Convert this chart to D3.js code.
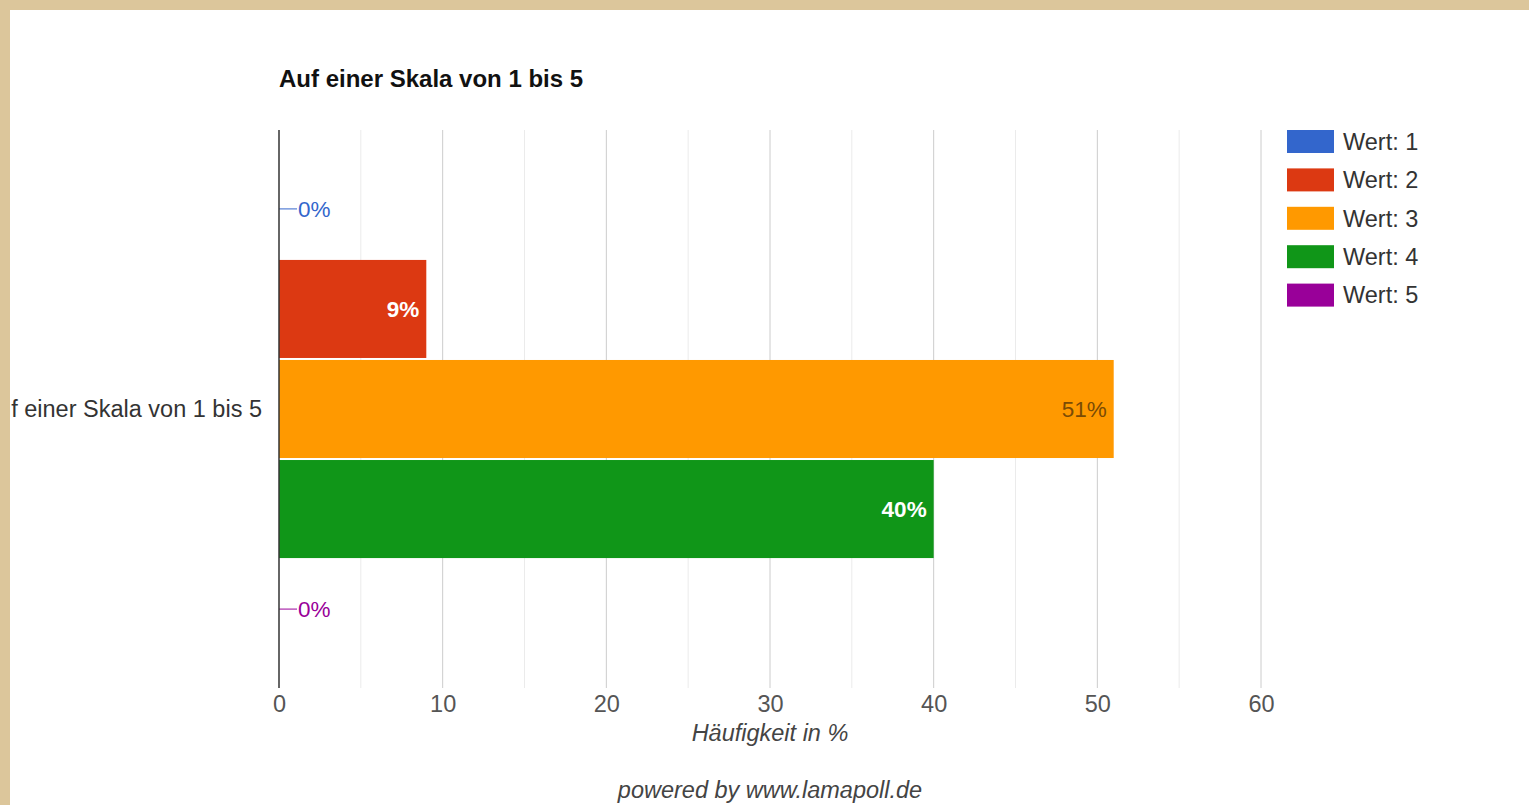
<!DOCTYPE html>
<html>
<head>
<meta charset="utf-8">
<script src="https://cdn.jsdelivr.net/npm/d3@7"></script>
<style>
  html, body { margin: 0; padding: 0; background: #ffffff; }
  svg { display: block; font-family: "Liberation Sans", Arial, sans-serif; }
</style>
</head>
<body>
<svg id="chart" width="1529" height="805"></svg>
<script>
// Survey result: share of answers per rating value
const categories = ["Auf einer Skala von 1 bis 5"];
const seriesNames = ["Wert: 1", "Wert: 2", "Wert: 3", "Wert: 4", "Wert: 5"];
const seriesValues = [0, 9, 51, 40, 0];
const seriesColors = ["#3366cc", "#dc3912", "#ff9900", "#109618", "#990099"];
const labelColors = ["#3366cc", "#ffffff", "#7a4b05", "#ffffff", "#990099"];
const labelWeights = ["normal", "bold", "normal", "bold", "normal"];
const xTicks = [0, 10, 20, 30, 40, 50, 60];
const xMinorTicks = [5, 15, 25, 35, 45, 55];
const chartTitle = "Auf einer Skala von 1 bis 5";
const xAxisTitle = "Häufigkeit in %";
const footer = "powered by www.lamapoll.de";

const FS = 23.5;
const svg = d3.select("#chart");
const plot = { left: 279, right: 1261, top: 130, bottom: 688 };

const x = d3.scaleLinear().domain([0, 60]).range([plot.left, plot.right]);
const y0 = d3.scaleBand().domain(categories).range([plot.top, plot.bottom])
  .paddingOuter(0.06).paddingInner(0);
const y1 = d3.scaleBand().domain(seriesNames).range([0, y0.bandwidth()])
  .paddingInner(0.02);

const rows = seriesNames.map((name, i) => ({
  name, value: seriesValues[i], color: seriesColors[i],
  labelColor: labelColors[i], weight: labelWeights[i]
}));

// Title
svg.append("text")
  .attr("x", plot.left).attr("y", 87)
  .attr("font-size", 24).attr("font-weight", "bold").attr("fill", "#111")
  .text(chartTitle);

// Gridlines
svg.append("g").selectAll("line.minor").data(xMinorTicks).join("line")
  .attr("x1", d => x(d)).attr("x2", d => x(d))
  .attr("y1", plot.top).attr("y2", plot.bottom)
  .attr("stroke", "#ebebeb").attr("stroke-width", 1);
svg.append("g").selectAll("line.major").data(xTicks.filter(d => d > 0)).join("line")
  .attr("x1", d => x(d)).attr("x2", d => x(d))
  .attr("y1", plot.top).attr("y2", plot.bottom)
  .attr("stroke", "#cccccc").attr("stroke-width", 1);

// X axis tick labels via d3.axisBottom
const xAxis = d3.axisBottom(x).tickValues(xTicks).tickSize(0).tickPadding(7)
  .tickFormat(d3.format("d"));
const gx = svg.append("g").attr("transform", `translate(0,${plot.bottom})`).call(xAxis);
gx.select(".domain").remove();
gx.selectAll("text").attr("font-size", FS).attr("fill", "#555")
  .attr("font-family", "Liberation Sans, Arial, sans-serif");

// Axis title
svg.append("text")
  .attr("x", x(30)).attr("y", 741).attr("text-anchor", "middle")
  .attr("font-size", FS).attr("font-style", "italic").attr("fill", "#444")
  .text(xAxisTitle);

// Bars
const group = svg.append("g").selectAll("g").data(categories).join("g")
  .attr("transform", d => `translate(0,${y0(d)})`);

group.selectAll("rect").data(rows).join("rect")
  .attr("x", x(0))
  .attr("y", d => y1(d.name))
  .attr("width", d => x(d.value) - x(0))
  .attr("height", y1.bandwidth())
  .attr("fill", d => d.color);

// Labels inside bars
group.selectAll("text.inside").data(rows.filter(d => d.value > 0)).join("text")
  .attr("class", "inside")
  .attr("x", d => x(d.value) - 7)
  .attr("y", d => y1(d.name) + y1.bandwidth() / 2)
  .attr("dy", "0.35em").attr("text-anchor", "end")
  .attr("font-size", FS - 1).attr("font-weight", d => d.weight)
  .attr("fill", d => d.labelColor)
  .text(d => d3.format("d")(d.value) + "%");

// Labels with leader lines for empty bars
const empty = rows.filter(d => d.value === 0);
group.selectAll("line.leader").data(empty).join("line")
  .attr("x1", x(0)).attr("x2", x(0) + 18)
  .attr("y1", d => y1(d.name) + y1.bandwidth() / 2)
  .attr("y2", d => y1(d.name) + y1.bandwidth() / 2)
  .attr("stroke", d => d.color).attr("stroke-width", 1);
group.selectAll("text.outside").data(empty).join("text")
  .attr("x", x(0) + 19)
  .attr("y", d => y1(d.name) + y1.bandwidth() / 2)
  .attr("dy", "0.35em")
  .attr("font-size", FS - 1).attr("fill", d => d.labelColor)
  .text(d => d3.format("d")(d.value) + "%");

// Baseline (vertical axis line)
svg.append("line")
  .attr("x1", x(0)).attr("x2", x(0))
  .attr("y1", plot.top).attr("y2", plot.bottom)
  .attr("stroke", "#333").attr("stroke-width", 1.5);

// Category label
svg.append("g").selectAll("text").data(categories).join("text")
  .attr("x", plot.left - 17)
  .attr("y", d => y0(d) + y0.bandwidth() / 2)
  .attr("dy", "0.35em").attr("text-anchor", "end")
  .attr("font-size", FS).attr("fill", "#333")
  .text(d => d);

// Legend
const legend = svg.append("g").attr("transform", "translate(1287,130)");
const li = legend.selectAll("g").data(rows).join("g")
  .attr("transform", (d, i) => `translate(0,${i * 38.4})`);
li.append("rect").attr("width", 47).attr("height", 23).attr("fill", d => d.color);
li.append("text").attr("x", 56).attr("y", 11.5).attr("dy", "0.35em")
  .attr("font-size", FS).attr("fill", "#333").text(d => d.name);

// Footer
svg.append("text")
  .attr("x", x(30)).attr("y", 798).attr("text-anchor", "middle")
  .attr("font-size", FS).attr("font-style", "italic").attr("fill", "#444")
  .text(footer);

// Page frame
svg.append("rect").attr("x", 0).attr("y", 0).attr("width", 1529).attr("height", 10).attr("fill", "#dcc69b");
svg.append("rect").attr("x", 0).attr("y", 0).attr("width", 10).attr("height", 805).attr("fill", "#dcc69b");
</script>
</body>
</html>
